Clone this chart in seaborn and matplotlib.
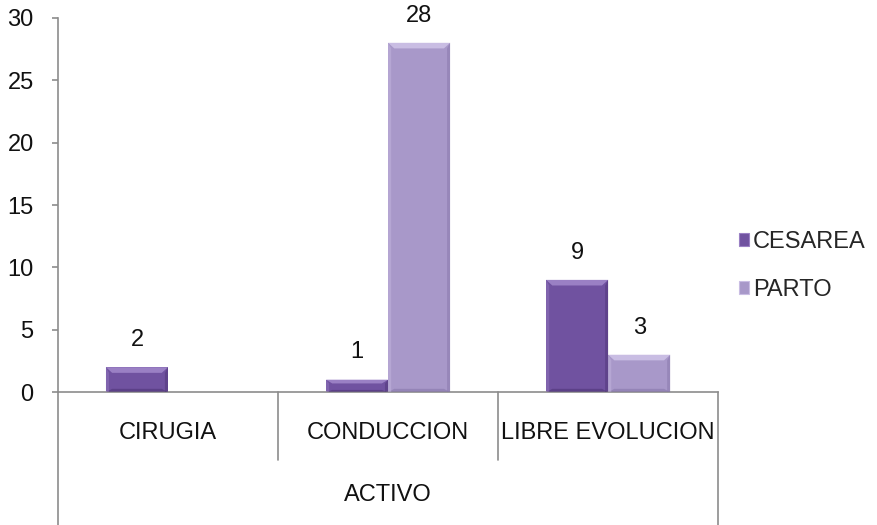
import matplotlib
matplotlib.use("Agg")
import matplotlib.pyplot as plt
from matplotlib.patches import Polygon
import seaborn as sns
import pandas as pd

categories = ["CIRUGIA", "CONDUCCION", "LIBRE EVOLUCION"]
series = ["CESAREA", "PARTO"]
cesarea = [2, 1, 9]
parto = [None, 28, 3]
group_label = "ACTIVO"
yticks = [0, 5, 10, 15, 20, 25, 30]

rows = []
for cat, c, p in zip(categories, cesarea, parto):
    if c is not None:
        rows.append({"cat": cat, "serie": "CESAREA", "val": c})
    if p is not None:
        rows.append({"cat": cat, "serie": "PARTO", "val": p})
df = pd.DataFrame(rows)

sns.set_theme(style="white")
plt.rcParams["font.family"] = ["Liberation Sans", "DejaVu Sans"]
FS = 17

colors = {"CESAREA": "#7052a0", "PARTO": "#a898c9"}
light = {"CESAREA": "#9a80c4", "PARTO": "#c9bde3"}
dark = {"CESAREA": "#4f3578", "PARTO": "#8877ab"}

fig = plt.figure(figsize=(8.78, 5.25), dpi=100)
ax = fig.add_axes([0.066, 0.253, 0.752, 0.713])

sns.barplot(data=df, x="cat", y="val", hue="serie", order=categories,
            hue_order=series, palette=colors, width=0.564, dodge=True,
            ax=ax, legend=False, saturation=1, linewidth=0)

ax.set_xlim(-0.5, len(categories) - 0.5)
ax.set_ylim(0, 30)
ax.set_yticks(yticks)
ax.set_yticklabels([str(t) for t in yticks], fontsize=FS, color="#111111")
ax.set_xticks([])
ax.set_xlabel("")
ax.set_ylabel("")

for s in ["top", "right"]:
    ax.spines[s].set_visible(False)
for s in ["left", "bottom"]:
    ax.spines[s].set_color("#8c8c8c")
    ax.spines[s].set_linewidth(1.2)
ax.tick_params(axis="y", which="both", left=True, length=4.5, width=1.2,
               color="#8c8c8c", pad=13)

# bevelled look on each bar, built from the bar geometry
for container, serie in zip(ax.containers, series):
    for bar in container:
        h = bar.get_height()
        if h is None or h != h or h == 0:
            continue
        x0, w, y0 = bar.get_x(), bar.get_width(), bar.get_y()
        x1, y1 = x0 + w, y0 + h
        bx = w * 0.10
        by = min(0.45, h * 0.3)
        ax.add_patch(Polygon([[x0, y1], [x1, y1], [x1 - bx, y1 - by], [x0 + bx, y1 - by]],
                             closed=True, facecolor=light[serie], edgecolor="none", zorder=3))
        ax.add_patch(Polygon([[x0, y0], [x1, y0], [x1 - bx, y0 + by * 0.6], [x0 + bx, y0 + by * 0.6]],
                             closed=True, facecolor=dark[serie], edgecolor="none", zorder=3, alpha=0.6))
        ax.add_patch(Polygon([[x1, y0], [x1, y1], [x1 - bx * 0.5, y1 - by], [x1 - bx * 0.5, y0]],
                             closed=True, facecolor=dark[serie], edgecolor="none", zorder=3, alpha=0.5))
        ax.add_patch(Polygon([[x0, y0], [x0, y1], [x0 + bx * 0.5, y1 - by], [x0 + bx * 0.5, y0]],
                             closed=True, facecolor=light[serie], edgecolor="none", zorder=3, alpha=0.4))
        ax.text(x0 + w / 2, y1 + 1.3, f"{int(h)}", ha="center", va="bottom",
                fontsize=FS, color="#111111")

# category labels and separators below the axis
trans = ax.get_xaxis_transform()
for i, cat in enumerate(categories):
    ax.text(i, -0.11, cat, transform=trans, ha="center", va="center",
            fontsize=FS, color="#111111")
for k in range(len(categories) + 1):
    xpos = k - 0.5
    low = -0.355 if k in (0, len(categories)) else -0.18
    ax.plot([xpos, xpos], [0, low], transform=trans, color="#8c8c8c",
            lw=1.2, clip_on=False)
ax.text((len(categories) - 1) / 2, -0.275, group_label, transform=trans,
        ha="center", va="center", fontsize=FS, color="#111111")

handles = [plt.Rectangle((0, 0), 1, 1, facecolor=colors[s], edgecolor=light[s], lw=0.8)
           for s in series]
fig.legend(handles, series, loc="center left", bbox_to_anchor=(0.817, 0.494),
           frameon=False, fontsize=FS, handlelength=0.45, handleheight=0.45,
           handletextpad=0.15, labelspacing=1.1)

fig.savefig("out.png", dpi=100)
